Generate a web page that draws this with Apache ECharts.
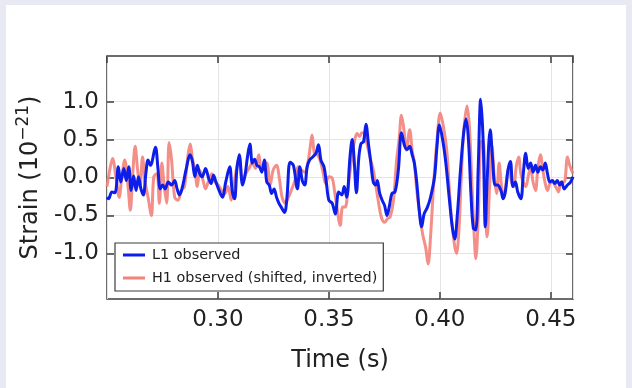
<!DOCTYPE html>
<html>
<head>
<meta charset="utf-8">
<script src="https://cdn.jsdelivr.net/npm/echarts@6/dist/echarts.min.js"></script>
<style>
  html, body { margin: 0; padding: 0; background: #e9e9f3; }
  #panel { position: absolute; left: 6px; top: 5px; width: 620px; height: 383px; background: #fff; }
  #chart { position: absolute; left: 0; top: 0; width: 632px; height: 388px; }
</style>
</head>
<body>
<div id="panel"></div>
<div id="chart"></div>
<script>
// L1 observed strain (1e-21) vs time (s)
const l1Time = [
  0.2500, 0.2507, 0.2522, 0.2536, 0.2551, 0.2562, 0.2576, 0.2587, 0.2598, 0.2609,
  0.2620, 0.2631, 0.2642, 0.2653, 0.2664, 0.2675, 0.2685, 0.2696, 0.2718, 0.2729,
  0.2740, 0.2751, 0.2762, 0.2776, 0.2791, 0.2805, 0.2816, 0.2827, 0.2842, 0.2856,
  0.2875, 0.2885, 0.2896, 0.2907, 0.2918, 0.2929, 0.2944, 0.2958, 0.2969, 0.2980,
  0.2991, 0.3005, 0.3020, 0.3035, 0.3053, 0.3064, 0.3075, 0.3085, 0.3096, 0.3111,
  0.3122, 0.3133, 0.3144, 0.3155, 0.3165, 0.3176, 0.3187, 0.3198, 0.3209, 0.3220,
  0.3231, 0.3242, 0.3253, 0.3264, 0.3275, 0.3285, 0.3300, 0.3311, 0.3325, 0.3340,
  0.3358, 0.3369, 0.3380, 0.3391, 0.3402, 0.3413, 0.3427, 0.3442, 0.3453, 0.3464,
  0.3478, 0.3489, 0.3500, 0.3515, 0.3529, 0.3544, 0.3558, 0.3569, 0.3580, 0.3595,
  0.3605, 0.3613, 0.3624, 0.3635, 0.3645, 0.3656, 0.3667, 0.3678, 0.3689, 0.3700,
  0.3711, 0.3718, 0.3729, 0.3740, 0.3751, 0.3762, 0.3773, 0.3784, 0.3798, 0.3813,
  0.3827, 0.3842, 0.3853, 0.3864, 0.3875, 0.3885, 0.3896, 0.3907, 0.3918, 0.3929,
  0.3944, 0.3958, 0.3976, 0.3987, 0.3998, 0.4013, 0.4027, 0.4042, 0.4056, 0.4067,
  0.4078, 0.4093, 0.4107, 0.4118, 0.4129, 0.4140, 0.4151, 0.4162, 0.4173, 0.4184,
  0.4195, 0.4205, 0.4213, 0.4227, 0.4238, 0.4249, 0.4260, 0.4275, 0.4285, 0.4296,
  0.4307, 0.4318, 0.4329, 0.4340, 0.4351, 0.4365, 0.4376, 0.4387, 0.4398, 0.4409,
  0.4420, 0.4431, 0.4442, 0.4453, 0.4464, 0.4475, 0.4485, 0.4496, 0.4507, 0.4518,
  0.4529, 0.4540, 0.4549, 0.4560, 0.4575, 0.4589, 0.4600
];
const l1Strain = [
  -0.26, -0.28, -0.19, -0.20, 0.14, -0.06, 0.12, -0.04, 0.14, -0.17,
  0.02, -0.17, 0.01, -0.15, -0.23, 0.05, 0.23, 0.16, 0.40, 0.14,
  -0.15, -0.10, -0.15, -0.06, -0.10, -0.04, -0.15, -0.23, -0.10, 0.10,
  0.30, 0.21, 0.01, 0.16, 0.05, 0.01, 0.12, -0.01, -0.08, 0.03,
  -0.06, -0.17, -0.26, -0.06, 0.14, -0.17, -0.28, 0.10, 0.30, -0.10,
  0.03, 0.27, 0.44, 0.19, 0.24, 0.16, 0.14, 0.07, 0.23, -0.06,
  -0.10, -0.21, -0.15, -0.26, -0.34, -0.39, -0.46, -0.26, 0.20, 0.16,
  -0.15, 0.14, -0.04, -0.10, 0.14, 0.23, 0.27, 0.32, 0.43, 0.23,
  0.14, -0.08, -0.30, -0.34, -0.48, -0.19, -0.23, -0.12, -0.26, 0.27,
  0.50, 0.27, -0.20, 0.27, 0.45, 0.47, 0.70, 0.45, 0.19, -0.06,
  -0.10, -0.04, -0.21, -0.30, -0.37, -0.50, -0.37, -0.21, -0.19, 0.10,
  0.59, 0.41, 0.37, 0.41, 0.30, 0.19, -0.07, -0.43, -0.65, -0.48,
  -0.39, -0.26, 0.01, 0.41, 0.69, 0.49, 0.19, -0.26, -0.65, -0.81,
  -0.52, 0.10, 0.58, 0.77, 0.49, -0.21, -0.67, -0.69, 0.14, 1.03,
  0.49, -0.65, -0.04, 0.63, 0.23, -0.10, -0.10, -0.17, -0.28, -0.17,
  0.10, 0.21, -0.12, -0.06, -0.19, -0.28, 0.05, 0.32, 0.12, 0.19,
  0.07, 0.16, 0.07, 0.14, 0.10, 0.19, 0.05, -0.06, -0.04, -0.08,
  -0.04, -0.10, -0.06, -0.15, -0.10, -0.06, 0.01
];

// H1 observed (shifted, inverted)
const h1Time = [
  0.2500, 0.2515, 0.2525, 0.2540, 0.2555, 0.2565, 0.2580, 0.2595, 0.2605, 0.2616,
  0.2627, 0.2638, 0.2649, 0.2660, 0.2671, 0.2685, 0.2700, 0.2711, 0.2725, 0.2736,
  0.2747, 0.2758, 0.2769, 0.2780, 0.2791, 0.2805, 0.2820, 0.2835, 0.2849, 0.2864,
  0.2875, 0.2885, 0.2896, 0.2907, 0.2918, 0.2933, 0.2944, 0.2958, 0.2973, 0.2987,
  0.3002, 0.3016, 0.3031, 0.3045, 0.3060, 0.3071, 0.3085, 0.3096, 0.3111, 0.3125,
  0.3140, 0.3155, 0.3169, 0.3184, 0.3195, 0.3209, 0.3220, 0.3235, 0.3249, 0.3264,
  0.3278, 0.3289, 0.3304, 0.3318, 0.3333, 0.3347, 0.3362, 0.3376, 0.3391, 0.3405,
  0.3416, 0.3424, 0.3435, 0.3449, 0.3460, 0.3475, 0.3485, 0.3500, 0.3515, 0.3525,
  0.3536, 0.3551, 0.3562, 0.3573, 0.3587, 0.3602, 0.3616, 0.3627, 0.3638, 0.3649,
  0.3660, 0.3671, 0.3685, 0.3700, 0.3711, 0.3722, 0.3736, 0.3751, 0.3765, 0.3776,
  0.3791, 0.3805, 0.3816, 0.3827, 0.3838, 0.3849, 0.3864, 0.3875, 0.3885, 0.3896,
  0.3911, 0.3922, 0.3936, 0.3947, 0.3958, 0.3973, 0.3987, 0.4002, 0.4016, 0.4031,
  0.4042, 0.4056, 0.4075, 0.4085, 0.4096, 0.4107, 0.4122, 0.4133, 0.4144, 0.4155,
  0.4162, 0.4173, 0.4184, 0.4195, 0.4205, 0.4213, 0.4224, 0.4235, 0.4245, 0.4256,
  0.4267, 0.4278, 0.4289, 0.4300, 0.4311, 0.4322, 0.4333, 0.4344, 0.4355, 0.4365,
  0.4376, 0.4387, 0.4398, 0.4409, 0.4420, 0.4431, 0.4442, 0.4453, 0.4464, 0.4475,
  0.4485, 0.4496, 0.4507, 0.4522, 0.4535, 0.4545, 0.4560, 0.4575, 0.4585, 0.4600
];
const h1Strain = [
  -0.12, 0.14, 0.25, 0.01, -0.26, -0.04, 0.23, -0.12, -0.43, 0.05,
  0.41, 0.10, -0.12, 0.27, -0.04, -0.26, -0.50, 0.01, 0.05, -0.34,
  0.19, -0.12, -0.34, 0.46, 0.23, -0.26, -0.30, -0.17, -0.12, 0.27,
  0.44, 0.25, 0.10, -0.12, 0.10, -0.04, -0.15, -0.04, 0.05, -0.06,
  -0.10, -0.17, -0.21, -0.12, -0.30, -0.12, 0.14, 0.27, -0.04, 0.05,
  0.12, 0.19, 0.12, 0.30, 0.12, 0.19, 0.19, -0.10, 0.10, 0.16,
  -0.04, -0.26, -0.34, -0.26, -0.15, -0.04, 0.14, 0.10, 0.07, 0.19,
  0.41, 0.56, 0.32, 0.30, 0.23, 0.05, -0.08, 0.01, -0.01, -0.17,
  -0.39, -0.63, -0.39, -0.39, -0.12, 0.23, 0.49, 0.58, 0.54, 0.59,
  0.58, 0.45, 0.27, 0.10, -0.10, -0.30, -0.52, -0.59, -0.54, -0.52,
  -0.30, 0.23, 0.49, 0.82, 0.63, 0.36, 0.63, 0.36, 0.19, -0.17,
  -0.52, -0.74, -0.92, -1.14, -0.78, -0.04, 0.49, 0.85, 0.67, 0.36,
  -0.12, -0.65, -1.00, -0.74, -0.04, 0.58, 0.94, 0.67, -0.04, -0.78,
  -1.07, -0.52, 0.45, 0.49, -0.39, -0.78, -0.12, 0.41, 0.01, -0.21,
  0.19, -0.12, -0.26, -0.04, 0.14, -0.04, -0.12, 0.14, 0.27, 0.05,
  -0.06, -0.12, 0.01, 0.14, -0.06, -0.17, 0.14, 0.30, 0.10, -0.08,
  -0.17, -0.08, -0.06, -0.12, -0.19, -0.06, -0.06, 0.27, 0.16, 0.05
];

const yTicks = [-1.0, -0.5, 0.0, 0.5, 1.0];

const FONT = "DejaVu Sans";
const TEXT_COLOR = "#222";
const FRAME = "#3c3c3c";
const BLUE = "#0d1eea";
const SALMON = "#f2837b";

function pairs(xs, ys) {
  return xs.map((x, i) => [x, ys[i]]);
}

const tick = { inside: true, length: 7, lineStyle: { color: FRAME, width: 1.5 } };

const chart = echarts.init(document.getElementById("chart"), null, { renderer: "canvas" });

chart.setOption({
  animation: false,
  backgroundColor: "transparent",
  textStyle: { fontFamily: FONT },
  grid: {
    left: 107,
    right: 59,
    top: 56,
    bottom: 89,
    show: true,
    borderColor: FRAME,
    borderWidth: 1.5,
    backgroundColor: "transparent",
  },
  legend: {
    data: [
      { name: "L1 observed", itemStyle: { color: BLUE } },
      { name: "H1 observed (shifted, inverted)", itemStyle: { color: SALMON } },
    ],
    orient: "vertical",
    left: 115,
    top: 243,
    padding: [5, 6, 6, 8],
    itemGap: 9,
    itemWidth: 22,
    itemHeight: 3,
    icon: "rect",
    backgroundColor: "#fff",
    borderColor: FRAME,
    borderWidth: 1.2,
    textStyle: { fontSize: 14.4, color: TEXT_COLOR, fontFamily: FONT, lineHeight: 14, padding: [0, 0, 0, 2] },
  },
  xAxis: [
    {
      type: "value",
      min: 0.25,
      max: 0.46,
      interval: 0.05,
      name: "Time (s)",
      nameLocation: "middle",
      nameGap: 50,
      nameTextStyle: { fontSize: 24, color: TEXT_COLOR },
      axisLine: { show: false, onZero: false },
      axisTick: tick,
      axisLabel: {
        fontSize: 23,
        color: TEXT_COLOR,
        margin: 10,
        showMinLabel: false,
        formatter: (v) => (Math.abs(v - 0.25) < 1e-6 ? "" : v.toFixed(2)),
      },
      splitLine: { show: true, lineStyle: { color: "#e4e4e4", width: 1 } },
    },
    {
      type: "value",
      position: "top",
      min: 0.25,
      max: 0.46,
      interval: 0.05,
      axisLine: { show: false, onZero: false },
      axisTick: tick,
      axisLabel: { show: false },
      splitLine: { show: false },
    },
  ],
  yAxis: [
    {
      type: "value",
      min: -1.6,
      max: 1.6,
      name: "Strain (10{sup|−21})",
      nameLocation: "middle",
      nameRotate: 90,
      nameGap: 55,
      nameTextStyle: {
        fontSize: 24,
        color: TEXT_COLOR,
        rich: { sup: { fontSize: 17, color: TEXT_COLOR, padding: [0, 0, 15, 0] } },
      },
      axisLine: { show: false, onZero: false },
      axisTick: Object.assign({ customValues: yTicks }, tick),
      axisLabel: {
        fontSize: 23,
        color: TEXT_COLOR,
        margin: 8,
        customValues: yTicks,
        formatter: (v) => v.toFixed(1),
      },
      splitLine: { show: true, lineStyle: { color: "#e4e4e4", width: 1 } },
    },
    {
      type: "value",
      position: "right",
      min: -1.6,
      max: 1.6,
      axisLine: { show: false, onZero: false },
      axisTick: Object.assign({ customValues: yTicks }, tick),
      axisLabel: { show: false, customValues: yTicks },
      splitLine: { show: false },
    },
  ],
  series: [
    {
      name: "H1 observed (shifted, inverted)",
      type: "line",
      data: pairs(h1Time, h1Strain),
      symbol: "none",
      smooth: 0.35,
      clip: true,
      lineStyle: { color: SALMON, width: 3, opacity: 0.9 },
      itemStyle: { color: SALMON },
      z: 2,
    },
    {
      name: "L1 observed",
      type: "line",
      data: pairs(l1Time, l1Strain),
      symbol: "none",
      smooth: 0.35,
      clip: true,
      lineStyle: { color: BLUE, width: 3 },
      itemStyle: { color: BLUE },
      z: 3,
    },
  ],
});
</script>
</body>
</html>
